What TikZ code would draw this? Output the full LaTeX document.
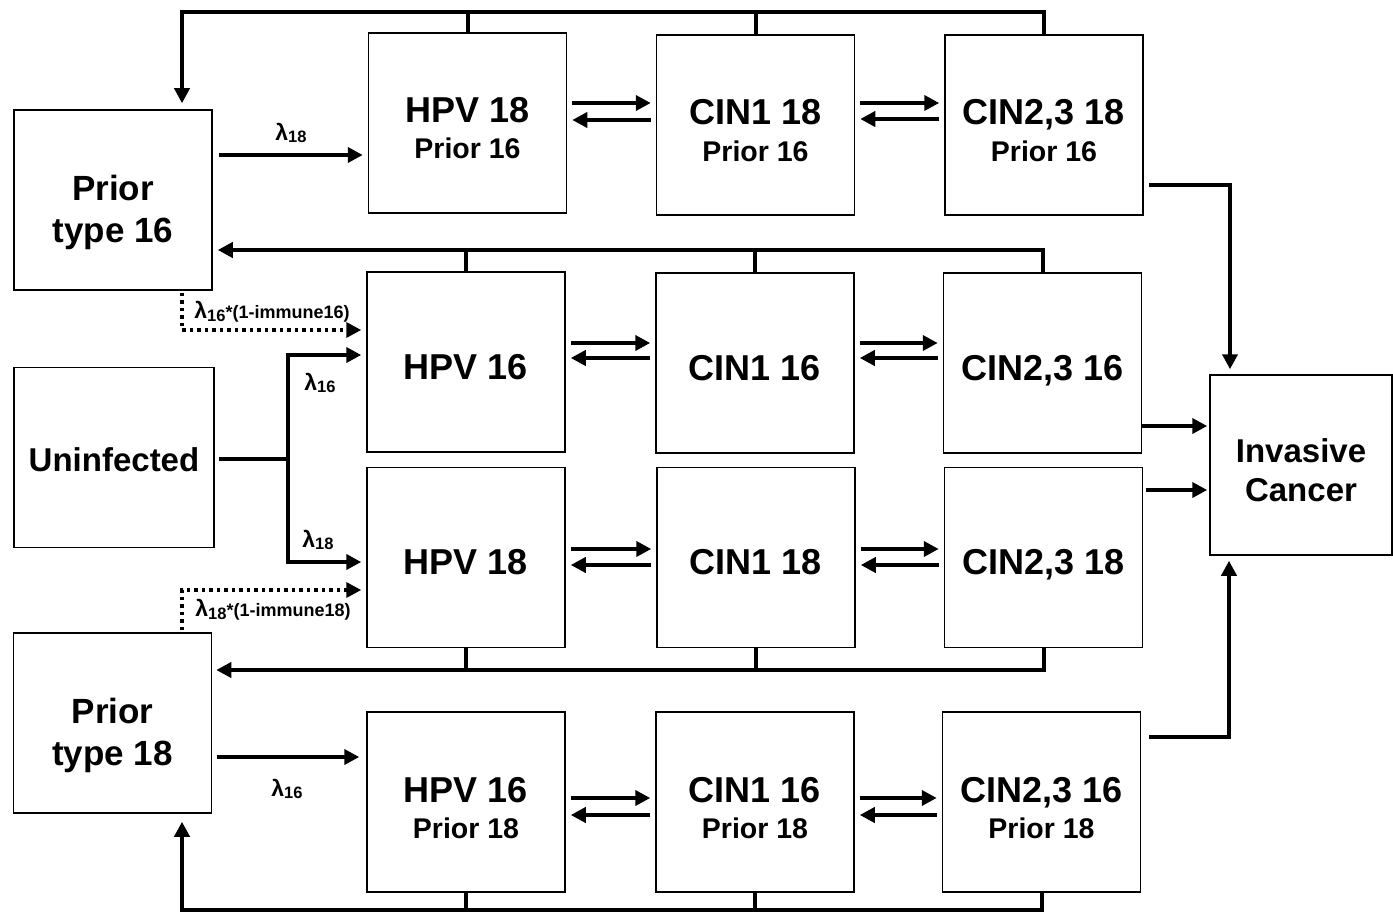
\documentclass[tikz,border=0pt]{standalone}
\usepackage{fontspec}
\setmainfont{Liberation Sans}
\usetikzlibrary{arrows.meta}
\newcommand\lsub[1]{{\fontsize{23}{23}\selectfont λ}\raisebox{-0.25em}{\fontsize{16.5}{16.5}\selectfont #1}}
\newcommand\subt[1]{{\fontsize{28.5}{36}\selectfont #1}}
\newcommand\dblarr[4]{%
  \draw[arr, shorten <=5pt, shorten >=5pt] (#1.east |- 0,#3) -- (#2.west |- 0,#3);
  \draw[arr, shorten <=5pt, shorten >=5pt] (#2.west |- 0,#4) -- (#1.east |- 0,#4);}
\tikzset{
  box/.style={draw, line width=1.5pt, minimum width=198pt, minimum height=180pt,
    inner sep=0pt, align=center, font=\bfseries\fontsize{36}{36}\selectfont,
    text height=34pt, text depth=0pt},
  boxtwo/.style={box, text height=72pt, text depth=0pt},
  priorbox/.style={box, font=\bfseries\fontsize{35}{42}\selectfont,
    text height=84pt, text depth=0pt},
  conn/.style={line width=4pt, line join=miter, line cap=butt},
  arr/.style={conn, -{Triangle[length=15pt,width=15pt]}},
  dotarr/.style={arr, line width=3.5pt, dash pattern=on 3.5pt off 4pt},
  lab/.style={font=\bfseries, inner sep=0pt},
}
\begin{document}
\begin{tikzpicture}[x=1pt,y=-1pt]
\useasboundingbox (0,0) rectangle (1393,915);
% left boxes
\node[priorbox] (P16) at (113,200) {Prior\\type 16};
\node[box, minimum width=200pt, font=\bfseries\fontsize{33}{33}\selectfont, text height=27pt] (UN) at (114,457.5) {Uninfected};
\node[priorbox] (P18) at (112.5,723) {Prior\\type 18};
% row 1
\node[boxtwo] (A1) at (467.5,123) {HPV 18\\\subt{Prior 16}};
\node[boxtwo] (B1) at (755.5,125) {CIN1 18\\\subt{Prior 16}};
\node[boxtwo] (C1) at (1044,125) {CIN2,3 18\\\subt{Prior 16}};
% row 2
\node[box] (A2) at (466,362) {HPV 16};
\node[box] (B2) at (755,363) {CIN1 16};
\node[box] (C2) at (1042.5,363) {CIN2,3 16};
% row 3
\node[box] (A3) at (466,557.5) {HPV 18};
\node[box] (B3) at (756,557.5) {CIN1 18};
\node[box] (C3) at (1043.5,557.5) {CIN2,3 18};
% row 4
\node[boxtwo] (A4) at (466,802) {HPV 16\\\subt{Prior 18}};
\node[boxtwo] (B4) at (755,802) {CIN1 16\\\subt{Prior 18}};
\node[boxtwo] (C4) at (1041.5,802) {CIN2,3 16\\\subt{Prior 18}};
% invasive cancer
\node[box, minimum width=182pt, font=\bfseries\fontsize{33}{39}\selectfont, text height=72pt, text depth=0pt] (IC) at (1301,465) {Invasive\\Cancer};
% bus levels
\coordinate (yT) at (0,12);
\coordinate (yU) at (0,250);
\coordinate (yL) at (0,670);
\coordinate (yB) at (0,910);
\coordinate (xL) at (182,0);
% top bus
\draw[arr, shorten >=6pt] (C1.north) -- (C1.north |- yT) -- (xL |- yT) -- (xL |- P16.north);
\draw[conn] (A1.north) -- (A1.north |- yT);
\draw[conn] (B1.north) -- (B1.north |- yT);
% upper middle bus
\draw[arr, shorten >=5pt] (C2.north) -- (C2.north |- yU) -- (P16.east |- yU);
\draw[conn] (A2.north) -- (A2.north |- yU);
\draw[conn] (B2.north) -- (B2.north |- yU);
% lower middle bus
\draw[arr, shorten >=4pt] (C3.south) -- (C3.south |- yL) -- (P18.east |- yL);
\draw[conn] (A3.south) -- (A3.south |- yL);
\draw[conn] (B3.south) -- (B3.south |- yL);
% bottom bus
\draw[arr, shorten >=8pt] (C4.south) -- (C4.south |- yB) -- (xL |- yB) -- (xL |- P18.south);
\draw[conn] (A4.south) -- (A4.south |- yB);
\draw[conn] (B4.south) -- (B4.south |- yB);
% infections from prior boxes
\draw[arr, shorten <=6pt, shorten >=5pt] (P16.east |- 0,155) -- (A1.west |- 0,155);
\node[lab] (l1) at (291,133) {\lsub{18}};
\draw[arr, shorten <=5pt, shorten >=7pt] (P18.east |- 0,757) -- (A4.west |- 0,757);
\node[lab] (l2) at (287,789) {\lsub{16}};
% dotted reinfection
\draw[dotarr, shorten <=2pt, shorten >=5pt] (xL |- P16.south) -- (xL |- 0,330) -- (A2.west |- 0,330);
\node[lab] (l3) at (272,312) {\lsub{16}{\fontsize{18}{18}\selectfont *(1-immune16)}};
\draw[dotarr, shorten <=2pt, shorten >=5pt] (xL |- P18.north) -- (xL |- 0,590) -- (A3.west |- 0,590);
\node[lab] (l4) at (273,610) {\lsub{18}{\fontsize{18}{18}\selectfont *(1-immune18)}};
% from uninfected
\coordinate (J) at (288,459);
\draw[conn, shorten <=4pt] (UN.east |- J) -- (J);
\draw[arr, shorten >=5pt] (J) |- (A2.west |- 0,355);
\draw[arr, shorten >=5pt] (J) |- (A3.west |- 0,562);
\node[lab] (l5) at (320,383) {\lsub{16}};
\node[lab] (l6) at (318,540) {\lsub{18}};
% progression / regression
\dblarr{A1}{B1}{103}{120}
\dblarr{B1}{C1}{103}{119}
\dblarr{A2}{B2}{343}{358}
\dblarr{B2}{C2}{343}{358}
\dblarr{A3}{B3}{549}{565}
\dblarr{B3}{C3}{549}{565}
\dblarr{A4}{B4}{798}{815}
\dblarr{B4}{C4}{798}{815}
% to invasive cancer
\draw[arr, shorten <=5pt, shorten >=5pt] (C1.east |- 0,185) -| ([xshift=-71pt]IC.north);
\draw[arr, shorten >=2pt] (C2.east |- 0,426) -- (IC.west |- 0,426);
\draw[arr, shorten <=3pt, shorten >=2pt] (C3.east |- 0,490) -- (IC.west |- 0,490);
\draw[arr, shorten <=8pt, shorten >=5pt] (C4.east |- 0,737) -| ([xshift=-72pt]IC.south);
\end{tikzpicture}
\end{document}
